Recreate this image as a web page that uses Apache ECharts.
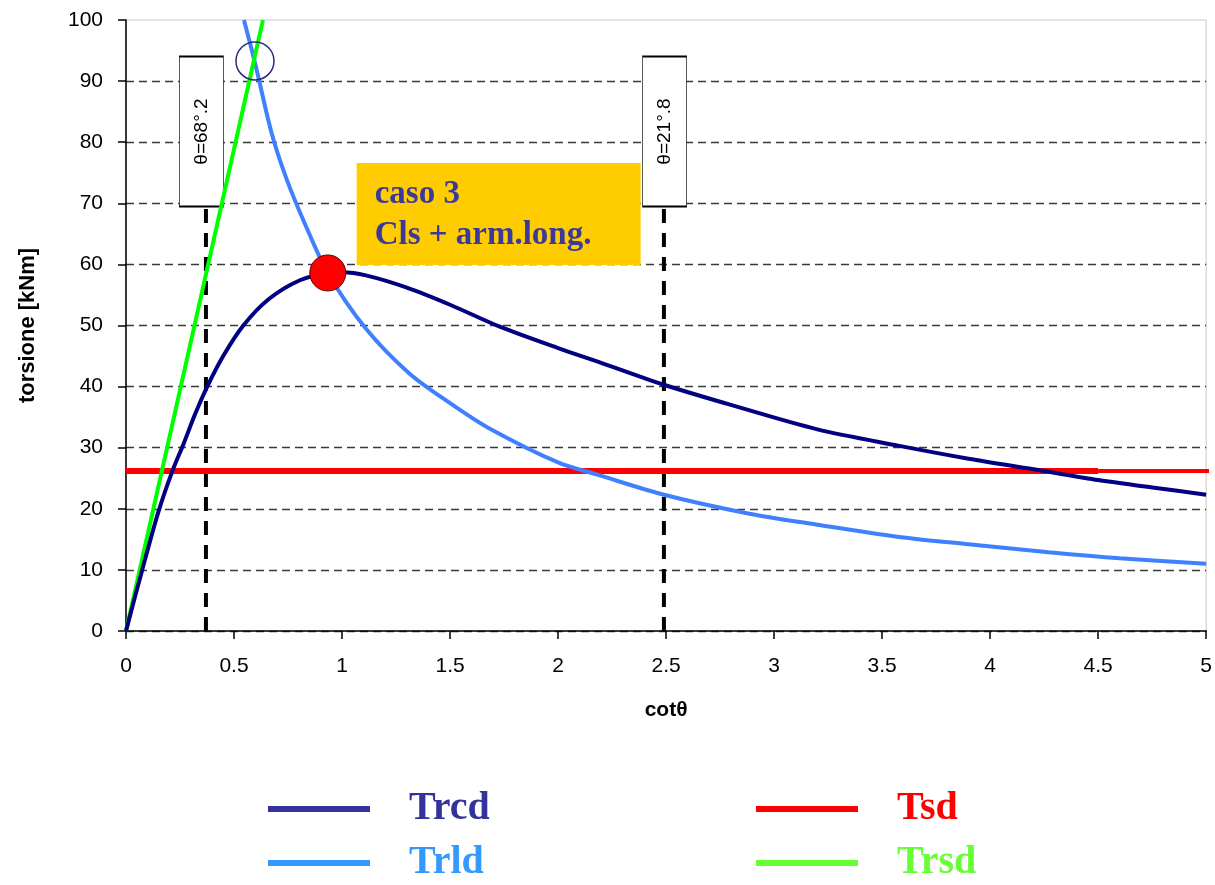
<!DOCTYPE html>
<html>
<head>
<meta charset="utf-8">
<script src="https://cdn.jsdelivr.net/npm/echarts@6/dist/echarts.min.js"></script>
<style>
  html, body { margin: 0; padding: 0; background: #fff; }
  #chart { width: 1215px; height: 885px; }
</style>
</head>
<body>
<div id="chart"></div>
<script>
// ---- data ----
const xTicks = [0, 0.5, 1, 1.5, 2, 2.5, 3, 3.5, 4, 4.5, 5];
const yTicks = [0, 10, 20, 30, 40, 50, 60, 70, 80, 90, 100];

const trcdCot = [0, 0.075, 0.15, 0.215, 0.265, 0.32, 0.376, 0.45, 0.543, 0.66, 0.805, 0.934, 1.0, 1.11, 1.3, 1.5, 1.73, 2.0, 2.19, 2.49, 2.8, 3.2, 3.58, 3.9, 4.23, 4.5, 4.75, 5.0];
const trcdVal = [0, 10, 19.5, 26.2, 30.5, 35.5, 40, 45, 50, 54.3, 57.4, 58.6, 58.7, 58.2, 56.2, 53.4, 49.8, 46.3, 44, 40.3, 37, 33, 30.3, 28.2, 26.3, 24.7, 23.5, 22.3];

const trldCot = [0.546, 0.597, 0.674, 0.743, 0.83, 0.934, 1.11, 1.31, 1.5, 1.68, 2.0, 2.19, 2.49, 2.886, 3.2, 3.58, 3.9, 4.27, 4.6, 5.0];
const trldVal = [100, 93, 81.5, 74, 66.5, 58.6, 49.5, 42.2, 37.3, 33.2, 27.6, 25.5, 22.3, 19.2, 17.4, 15.4, 14.2, 12.9, 11.9, 11.0];

const trsdCot = [0, 0.634];
const trsdVal = [0, 100];

const tsdValue = 26.2;
const tsdCot = [0, 4.5];
const tsdExtCot = [4.5, 5.02];

const thetaCot = [0.37, 2.49];
const thetaTop = 70;
const thetaLabels = ['θ=68°.2', 'θ=21°.8'];
const thetaBoxCot = [0.349, 2.493];
const thetaBoxVal = 81.75;

const optimumPt = [0.934, 58.6];
const crossPt = [0.597, 93.3];

const noteLines = ['caso 3', 'Cls + arm.long.'];
const notePos = [1.725, 68.25];

const seriesNames = ['Trcd', 'Trld', 'Tsd', 'Trsd'];
const legendColors = { Trcd: '#333399', Trld: '#3399FF', Tsd: '#FF0000', Trsd: '#66FF33' };
// legend slots: [left, top] in the 2 x 2 arrangement
const legendSlots = { Trcd: [268, 789], Trld: [268, 843], Tsd: [756, 789], Trsd: [756, 843] };

// ---- build ----
const zip = (xs, ys) => xs.map((x, i) => [x, ys[i]]);

const chart = echarts.init(document.getElementById('chart'));
const gridColors = yTicks.map((v, i) => i === yTicks.length - 1 ? 'rgba(0,0,0,0)' : '#3a3a3a');

const legends = seriesNames.map(n => ({
  left: legendSlots[n][0], top: legendSlots[n][1], padding: 0,
  orient: 'horizontal', icon: 'rect', itemWidth: 102, itemHeight: 6, selectedMode: false,
  textStyle: { fontFamily: 'Liberation Serif', fontWeight: 'bold', fontSize: 40, padding: [0, 0, 0, 34] },
  data: [{ name: n, itemStyle: { color: legendColors[n] }, textStyle: { color: legendColors[n] } }]
}));

const option = {
  animation: false,
  backgroundColor: '#fff',
  grid: { left: 126, right: 8, top: 20, bottom: 254, show: true, borderColor: '#c8c8c8', borderWidth: 1 },
  xAxis: {
    type: 'value', min: 0, max: 5, interval: 0.5,
    name: 'cotθ', nameLocation: 'middle', nameGap: 69,
    nameTextStyle: { fontFamily: 'Liberation Sans', fontWeight: 'bold', fontSize: 21, color: '#000' },
    axisLine: { show: true, onZero: false, lineStyle: { color: '#000', width: 1.5 } },
    axisTick: { show: true, length: 8, lineStyle: { color: '#000', width: 1.5 } },
    axisLabel: { margin: 25, fontFamily: 'Liberation Sans', fontSize: 21, color: '#000', formatter: v => String(+v.toFixed(1)) },
    splitLine: { show: false }
  },
  yAxis: {
    type: 'value', min: 0, max: 100, interval: 10,
    name: 'torsione [kNm]', nameLocation: 'middle', nameGap: 87,
    nameTextStyle: { fontFamily: 'Liberation Sans', fontWeight: 'bold', fontSize: 22, color: '#000' },
    axisLine: { show: true, lineStyle: { color: '#000', width: 1.5 } },
    axisTick: { show: true, length: 8, lineStyle: { color: '#000', width: 1.5 } },
    axisLabel: { margin: 23, fontFamily: 'Liberation Sans', fontSize: 21, color: '#000' },
    splitLine: { show: true, lineStyle: { color: gridColors, width: 1.3, type: [8, 5] } }
  },
  legend: legends,
  series: [
    // theta label boxes (behind lines)
    {
      name: 'thetaBox', type: 'scatter', z: 1, silent: true,
      symbol: 'rect', symbolSize: [44, 150],
      itemStyle: { color: '#fff', borderColor: '#000', borderWidth: 1.2, opacity: 1 },
      label: { show: true, position: 'inside', rotate: 90, fontFamily: 'Liberation Sans', fontSize: 19, color: '#000',
               formatter: p => thetaLabels[p.dataIndex] },
      data: thetaBoxCot.map(c => [c, thetaBoxVal])
    },
    // theta dashed verticals
    ...thetaCot.map((c, i) => ({
      name: 'thetaLine' + i, type: 'line', z: 2, silent: true, symbol: 'none',
      lineStyle: { color: '#000', width: 4, type: [14, 10] },
      data: [[c, 0], [c, thetaTop]]
    })),
    // note box
    {
      name: 'note', type: 'scatter', z: 1, silent: true,
      symbol: 'rect', symbolSize: [284, 102],
      itemStyle: { color: '#FFCC00', opacity: 1 },
      label: { show: true, position: [18, 11], align: 'left', verticalAlign: 'top',
               fontFamily: 'Liberation Serif', fontWeight: 'bold', fontSize: 33, lineHeight: 41, color: '#3a3a9c',
               formatter: () => noteLines.join('\n') },
      data: [notePos]
    },
    {
      name: 'Tsd', type: 'line', z: 3, symbol: 'none', color: '#FF0000',
      lineStyle: { color: '#FF0000', width: 6 },
      data: tsdCot.map(c => [c, tsdValue])
    },
    {
      name: 'TsdExt', type: 'line', z: 3, symbol: 'none', clip: false,
      lineStyle: { color: '#FF0000', width: 4 },
      data: tsdExtCot.map(c => [c, tsdValue])
    },
    {
      name: 'Trld', type: 'line', z: 4, symbol: 'none', smooth: 0.3, color: '#4080FF',
      lineStyle: { color: '#4080FF', width: 4 },
      data: zip(trldCot, trldVal)
    },
    {
      name: 'Trsd', type: 'line', z: 4, symbol: 'none', color: '#00FF00',
      lineStyle: { color: '#00FF00', width: 4 },
      data: zip(trsdCot, trsdVal)
    },
    {
      name: 'Trcd', type: 'line', z: 5, symbol: 'none', smooth: 0.3, color: '#000080',
      lineStyle: { color: '#000080', width: 4 },
      data: zip(trcdCot, trcdVal)
    },
    {
      name: 'optimum', type: 'scatter', z: 6, silent: true, symbolSize: 36,
      itemStyle: { color: '#FF0000', borderColor: '#600000', borderWidth: 1, opacity: 1 },
      data: [optimumPt]
    },
    {
      name: 'crossing', type: 'scatter', z: 6, silent: true, symbolSize: 38,
      itemStyle: { color: 'rgba(0,0,0,0)', borderColor: '#2a2a7a', borderWidth: 1.5, opacity: 1 },
      data: [crossPt]
    }
  ]
};
chart.setOption(option);
</script>
</body>
</html>
